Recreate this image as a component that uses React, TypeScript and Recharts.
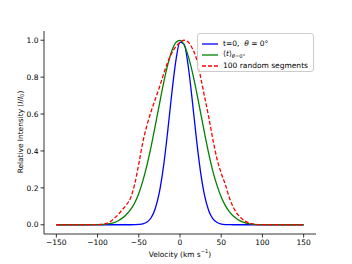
import { LineChart, Line, XAxis, YAxis, Legend, Label } from "recharts";

// velocity grid (km/s) and the three normalised profiles
const velocity = [
  -150, -125, -100, -95, -90, -85, -80, -75, -70, -65, -60, -55, -50, -45, -40, -35, -30, -25, -20, -15, -10, -5,
  0, 5, 10, 15, 20, 25, 30, 35, 40, 45, 50, 55, 60, 65, 70, 75, 80, 85, 90, 95, 100, 125, 150,
];
const initial = [
  0, 0, 0, 0, 0, 0, 0, 0, 0, 0, 0.0002, 0.0008, 0.002, 0.005, 0.015, 0.038, 0.088, 0.177, 0.316, 0.503, 0.71, 0.89,
  0.99, 0.979, 0.859, 0.669, 0.463, 0.284, 0.155, 0.075, 0.032, 0.012, 0.004, 0.001, 0.0003, 0, 0, 0, 0, 0, 0, 0, 0, 0, 0,
];
const averaged = [
  0, 0, 0.0007, 0.0015, 0.003, 0.006, 0.012, 0.022, 0.036, 0.056, 0.082, 0.118, 0.169, 0.239, 0.325, 0.425, 0.537, 0.653, 0.766, 0.865, 0.942, 0.988,
  0.999, 0.974, 0.914, 0.827, 0.722, 0.607, 0.491, 0.383, 0.288, 0.212, 0.15, 0.104, 0.07, 0.046, 0.029, 0.017, 0.009, 0.005, 0.0025, 0.001, 0.0005, 0, 0,
];
const segments = [
  0, 0, 0.0005, 0.002, 0.006, 0.016, 0.034, 0.055, 0.082, 0.108, 0.145, 0.22, 0.33, 0.45, 0.54, 0.615, 0.68, 0.745, 0.815, 0.88, 0.93, 0.965,
  0.988, 1.0, 0.99, 0.955, 0.9, 0.8, 0.69, 0.58, 0.46, 0.355, 0.28, 0.218, 0.145, 0.092, 0.056, 0.033, 0.017, 0.008, 0.003, 0.001, 0, 0, 0,
];
const xTicks = [-150, -100, -50, 0, 50, 100, 150];
const yTicks = [0, 0.2, 0.4, 0.6, 0.8, 1.0];

const data = velocity.map((v, i) => ({ v, initial: initial[i], averaged: averaged[i], segments: segments[i] }));

const FONT = "DejaVu Sans";
const tickStyle = { fontSize: 7.5, fill: "#000", fontFamily: FONT };
const axisLine = { stroke: "#000", strokeWidth: 0.8 };

const sampleLine = (color: string, dash?: string) => (
  <svg width={16} height={4} style={{ marginRight: 5, flexShrink: 0 }}>
    <line x1={0} y1={2} x2={16} y2={2} stroke={color} strokeWidth={1.3} strokeDasharray={dash} />
  </svg>
);

const renderLegend = () => (
  <div
    style={{
      width: 117, height: 39, boxSizing: "border-box", padding: "4px 0 0 4px",
      border: "1px solid #cccccc", borderRadius: 3, background: "rgba(255,255,255,0.8)",
      fontFamily: FONT, fontSize: 7.5, color: "#000", lineHeight: "11px",
    }}
  >
    <div style={{ display: "flex", alignItems: "center", height: 11 }}>
      {sampleLine("#0000ff")}
      <span>t=0,&nbsp; <i>θ</i> = 0°</span>
    </div>
    <div style={{ display: "flex", alignItems: "center", height: 11 }}>
      {sampleLine("#008000")}
      <span>⟨<i>t</i>⟩<sub style={{ fontSize: 5.2, verticalAlign: "-2px" }}><i>θ</i>=0°</sub></span>
    </div>
    <div style={{ display: "flex", alignItems: "center", height: 11 }}>
      {sampleLine("#ff0000", "4 2")}
      <span>100 random segments</span>
    </div>
  </div>
);

const YLabel = () => (
  <text x={20} y={132} transform="rotate(-90, 20, 132)" textAnchor="middle" dominantBaseline="central"
    fontFamily={FONT} fontSize={7.4} fill="#000">
    Relative Intensity (<tspan fontStyle="italic">I</tspan>/<tspan fontStyle="italic">I</tspan>
    <tspan dy={2} fontSize={5.2}>0</tspan><tspan dy={-2}>)</tspan>
  </text>
);

const XLabel = () => (
  <text x={180} y={254} textAnchor="middle" dominantBaseline="central" fontFamily={FONT} fontSize={7.4} fill="#000">
    Velocity (km s<tspan dy={-3} fontSize={5.2}>−1</tspan><tspan dy={3}>)</tspan>
  </text>
);

export default function App() {
  return (
    <div style={{ position: "absolute", left: 0, top: 0, background: "#fff" }}>
      <LineChart width={352} height={264} data={data} margin={{ top: 31, right: 36, left: 0, bottom: 0 }}>
        <XAxis
          dataKey="v" type="number" domain={[-165, 165]} ticks={xTicks} allowDataOverflow
          tickFormatter={(t: number) => String(t).replace("-", "−")}
          tick={tickStyle} tickSize={3.5} tickMargin={2} height={30}
          axisLine={axisLine} tickLine={axisLine}
        >
          <Label content={XLabel} />
        </XAxis>
        <XAxis xAxisId="top" orientation="top" type="number" domain={[-165, 165]} tick={false} tickLine={false}
          height={0} axisLine={axisLine} />
        <YAxis
          type="number" domain={[-0.05, 1.05]} ticks={yTicks} allowDataOverflow
          tickFormatter={(t: number) => t.toFixed(1)}
          tick={tickStyle} tickSize={3.5} tickMargin={2} width={44}
          axisLine={axisLine} tickLine={axisLine}
        >
          <Label content={YLabel} />
        </YAxis>
        <YAxis yAxisId="right" orientation="right" type="number" domain={[0, 1]} tick={false} tickLine={false}
          width={0} axisLine={axisLine} />
        <Legend content={renderLegend} layout="vertical" verticalAlign="middle" align="center"
          wrapperStyle={{ position: "absolute", left: 197, top: 33, width: 117 }} />
        <Line type="monotone" dataKey="initial" stroke="#0000ff" strokeWidth={1.3} dot={false} isAnimationActive={false} />
        <Line type="monotone" dataKey="averaged" stroke="#008000" strokeWidth={1.3} dot={false} isAnimationActive={false} />
        <Line type="monotone" dataKey="segments" stroke="#ff0000" strokeWidth={1.3} strokeDasharray="4 2" dot={false}
          isAnimationActive={false} />
      </LineChart>
    </div>
  );
}
